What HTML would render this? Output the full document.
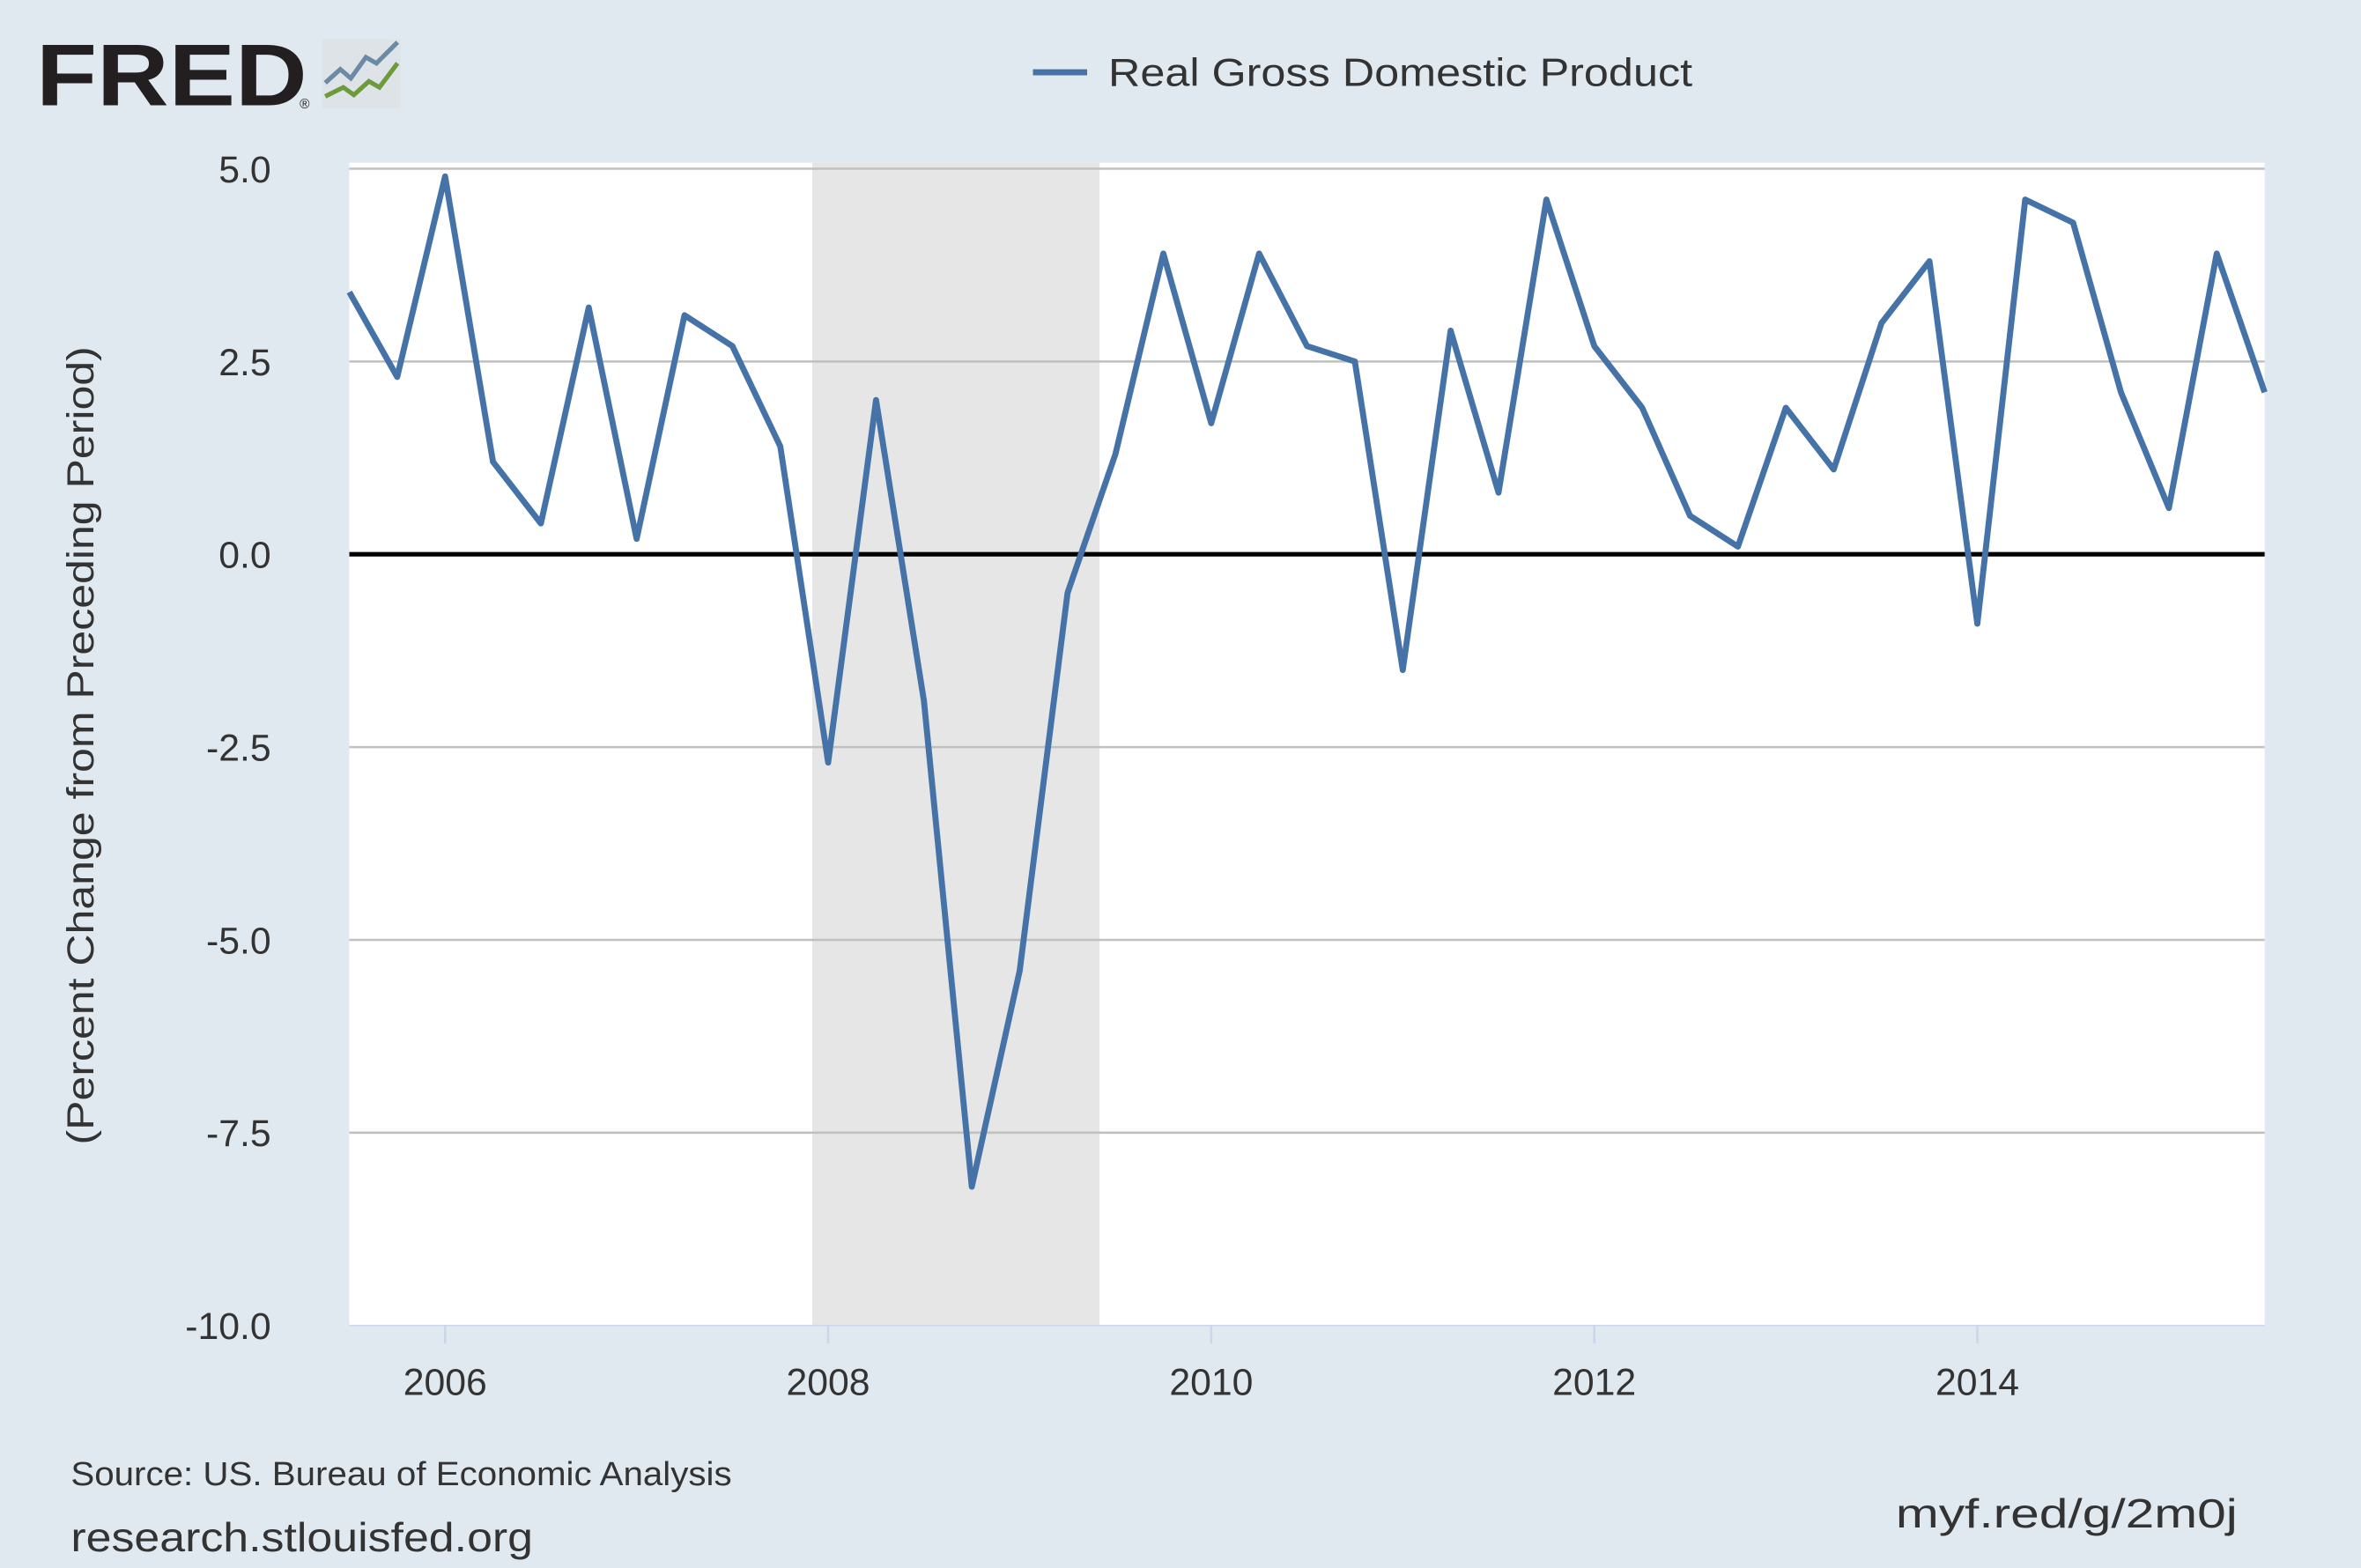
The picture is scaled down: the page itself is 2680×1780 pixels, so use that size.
<!DOCTYPE html>
<html><head><meta charset="utf-8"><style>
html,body{margin:0;padding:0;background:#e1e9f0;}
svg{display:block;font-family:"Liberation Sans",sans-serif;}
</style></head><body>
<svg id="c" width="2680" height="1780" viewBox="0 0 1568 1041" preserveAspectRatio="none" xmlns="http://www.w3.org/2000/svg">
<rect width="1568" height="1041" fill="#e1e9f0"/>
<g>
<text x="24" y="70" font-size="58" font-weight="bold" fill="#231f20" textLength="180" lengthAdjust="spacingAndGlyphs">FRED</text>
<text x="199" y="72" font-size="9" fill="#231f20">®</text>
<rect x="214" y="26" width="52" height="46" fill="#dde3e6"/>
<polyline points="216,55 226,46 233,52 243,38 250,42 264,28" fill="none" stroke="#6a8aa5" stroke-width="3"/>
<polyline points="216,64 228,58 235,63 245,54 252,58 264,42" fill="none" stroke="#6d9a3a" stroke-width="3"/>
</g>
<g>
<line x1="686" y1="48" x2="722" y2="48" stroke="#4572a7" stroke-width="4"/>
<text x="736" y="57" font-size="26" fill="#333" textLength="388" lengthAdjust="spacingAndGlyphs">Real Gross Domestic Product</text>
</g>
<rect x="232" y="108" width="1272" height="772" fill="#fff"/>
<g id="rec"></g>
<g id="grid"></g>
<g id="yl"></g>
<g id="xl"></g>
<line x1="232" y1="880" x2="1504" y2="880" stroke="#ccd6eb" stroke-width="1"/>
<line id="zero" stroke="#000" stroke-width="3"/>
<polyline id="ln" fill="none" stroke="#4572a7" stroke-width="4" stroke-linejoin="round"/>
<text transform="translate(62,495) rotate(-90)" text-anchor="middle" font-size="25" fill="#333" textLength="530" lengthAdjust="spacingAndGlyphs">(Percent Change from Preceding Period)</text>
<text x="47" y="986" font-size="22" fill="#333" textLength="439" lengthAdjust="spacingAndGlyphs">Source: US. Bureau of Economic Analysis</text>
<text x="47" y="1030" font-size="27" fill="#333" textLength="307" lengthAdjust="spacingAndGlyphs">research.stlouisfed.org</text>
<text x="1259" y="1014" font-size="27" fill="#333" textLength="227" lengthAdjust="spacingAndGlyphs">myf.red/g/2m0j</text>
</svg>
<script>
const startYear = 2005.5;
const values = [3.4,2.3,4.9,1.2,0.4,3.2,0.2,3.1,2.7,1.4,-2.7,2.0,-1.9,-8.2,-5.4,-0.5,1.3,3.9,1.7,3.9,2.7,2.5,-1.5,2.9,0.8,4.6,2.7,1.9,0.5,0.1,1.9,1.1,3.0,3.8,-0.9,4.6,4.3,2.1,0.6,3.9,2.1];
const yTicks = [5,2.5,0,-2.5,-5,-7.5,-10];
const yTickLabels = ["5.0","2.5","0.0","-2.5","-5.0","-7.5","-10.0"];
const xTicks = [2006,2008,2010,2012,2014];
const recessions = [[2007.917,2009.417]];
const NS="http://www.w3.org/2000/svg";
const X0=232,X1=1504,xMin=2005.5,xMax=2015.5;
const yOf=v=>368-v*51.2;
const xOf=t=>X0+(t-xMin)/(xMax-xMin)*(X1-X0);
function mk(tag,attrs,parent){const e=document.createElementNS(NS,tag);for(const k in attrs)e.setAttribute(k,attrs[k]);document.getElementById(parent).appendChild(e);return e;}
recessions.forEach(r=>{const e=mk('rect',{x:xOf(r[0]),y:108,width:xOf(r[1])-xOf(r[0]),height:772,fill:'#e6e6e6'},'rec');

});
yTicks.forEach((v,i)=>{if(v!==0&&v!==-10){const g=mk('line',{x1:X0,x2:X1,y1:yOf(v),y2:yOf(v),stroke:'#c0c0c0','stroke-width':1.5},'grid');

}
const t=mk('text',{x:180,y:yOf(v)+9,'text-anchor':'end','font-size':25,fill:'#333'},'yl');t.textContent=yTickLabels[i];

});
xTicks.forEach(y=>{const tk=mk('line',{x1:xOf(y),x2:xOf(y),y1:880,y2:892,stroke:'#ccd6eb','stroke-width':1.5},'xl');


const t=mk('text',{x:xOf(y),y:926,'text-anchor':'middle','font-size':25,fill:'#333'},'xl');t.textContent=y;

});
const z=document.getElementById('zero');z.setAttribute('x1',X0);z.setAttribute('x2',X1);z.setAttribute('y1',yOf(0));z.setAttribute('y2',yOf(0));
document.getElementById('ln').setAttribute('points',values.map((v,i)=>xOf(startYear+i*0.25)+','+yOf(v)).join(' '));
</script>
</body></html>
